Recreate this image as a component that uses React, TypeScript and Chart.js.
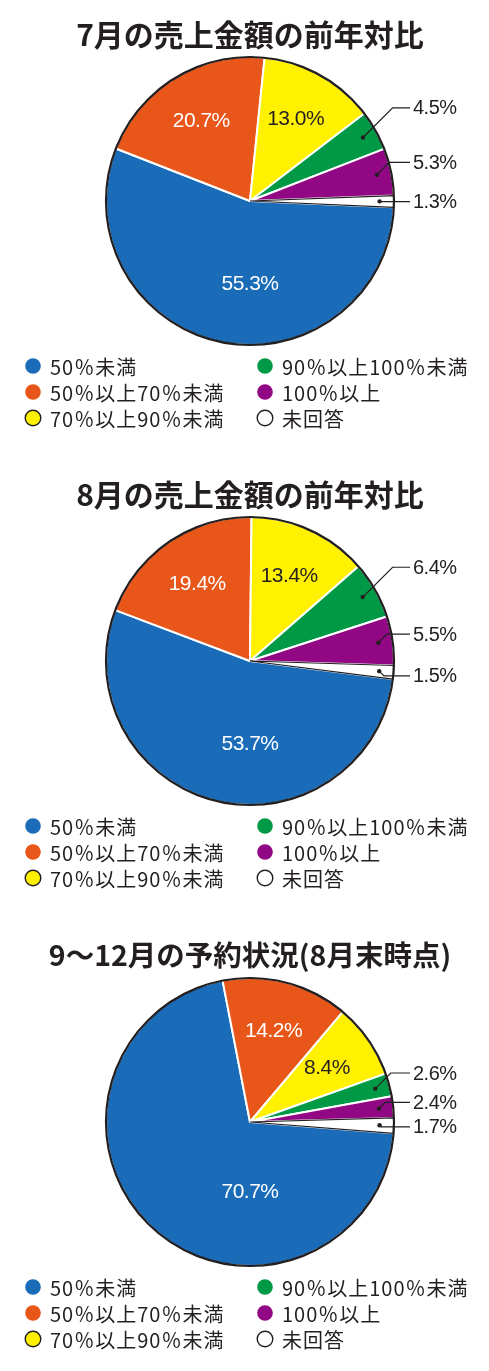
import React, { useEffect, useRef } from 'react';
import { Chart, registerables } from 'chart.js';

Chart.register(...registerables);

// ---- data ----
const categories = ['50％未満', '50％以上70％未満', '70％以上90％未満', '90％以上100％未満', '100％以上', '未回答'];
const julyValues = [55.3, 20.7, 13.0, 4.5, 5.3, 1.3];
const augustValues = [53.7, 19.4, 13.4, 6.4, 5.5, 1.5];
const bookingValues = [70.7, 14.2, 8.4, 2.6, 2.4, 1.7];
const titles = ['7月の売上金額の前年対比', '8月の売上金額の前年対比', '9〜12月の予約状況(8月末時点)'];

// ---- styles ----
const INK = '#231f20';
const sliceColors = ['#1a6cb8', '#e9561a', '#fff100', '#009a46', '#920783', '#ffffff'];
const sliceBorders = ['#ffffff', '#ffffff', '#ffffff', '#ffffff', '#ffffff', INK];
const sliceBorderWidths = [2, 2, 2, 2, 2, 1.2];
const innerTextColors = ['#ffffff', '#ffffff', INK, INK, INK, INK];
const markerOutlined = [false, false, true, false, false, true];

const panels = [
  { title: titles[0], values: julyValues, height: 460, rotation: 92.5, titleSize: 30, bigR: 0.58 },
  { title: titles[1], values: augustValues, height: 461, rotation: 97.2, titleSize: 30, bigR: 0.58 },
  { title: titles[2], values: bookingValues, height: 450, rotation: 94.5, titleSize: 28.5, bigR: 0.49 },
];

const decorPlugin = {
  id: 'pieDecor',
  afterDatasetsDraw(chart: any) {
    const ctx: CanvasRenderingContext2D = chart.ctx;
    const meta = chart.getDatasetMeta(0);
    const values: number[] = chart.data.datasets[0].data;
    const opts = chart.options.plugins.pieDecor;
    const arcs = meta.data;
    if (!arcs.length) return;
    const cx = arcs[0].x;
    const cy = arcs[0].y;
    const R = arcs[0].outerRadius;
    ctx.save();
    ctx.beginPath();
    ctx.arc(cx, cy, R, 0, Math.PI * 2);
    ctx.lineWidth = 2.2;
    ctx.strokeStyle = INK;
    ctx.stroke();

    arcs.forEach((arc: any, i: number) => {
      const v = values[i];
      const text = v.toFixed(1) + '%';
      const mid = (arc.startAngle + arc.endAngle) / 2;
      if (v >= 7) {
        let ang = mid;
        let rf = 0.65;
        if (v > 50) {
          ang = Math.PI / 2;
          rf = opts.bigR;
        }
        const x = cx + Math.cos(ang) * R * rf;
        const y = cy + Math.sin(ang) * R * rf;
        ctx.font = '21px "Liberation Sans", Arial, sans-serif';
        (ctx as any).letterSpacing = '-0.5px';
        ctx.fillStyle = innerTextColors[i];
        ctx.textAlign = 'center';
        ctx.textBaseline = 'middle';
        ctx.fillText(text, x, y);
      } else {
        const dx = cx + Math.cos(mid) * R * 0.9;
        const dy = cy + Math.sin(mid) * R * 0.9;
        const ly = cy + Math.sin(mid) * R * 1.32;
        const endX = cx + R + 16;
        const elbowX = Math.min(dx + Math.abs(ly - dy), endX - 8);
        ctx.beginPath();
        ctx.arc(dx, dy, 2.2, 0, Math.PI * 2);
        ctx.fillStyle = INK;
        ctx.fill();
        ctx.beginPath();
        ctx.moveTo(dx, dy);
        ctx.lineTo(elbowX, ly);
        ctx.lineTo(endX, ly);
        ctx.lineWidth = 1.2;
        ctx.strokeStyle = INK;
        ctx.stroke();
        ctx.font = '20px "Liberation Sans", Arial, sans-serif';
        (ctx as any).letterSpacing = '-0.5px';
        ctx.fillStyle = INK;
        ctx.textAlign = 'left';
        ctx.textBaseline = 'middle';
        ctx.fillText(text, endX + 3, ly + 1);
      }
    });
    ctx.restore();
  },
  afterDraw(chart: any) {
    const ctx: CanvasRenderingContext2D = chart.ctx;
    const labels: string[] = chart.data.labels;
    const colors: string[] = chart.data.datasets[0].backgroundColor;
    const area = chart.chartArea;
    ctx.save();
    const colX = [33, 265];
    const rowY0 = area.bottom + 21;
    const rowGap = 26;
    labels.forEach((lab, i) => {
      const col = Math.floor(i / 3);
      const row = i % 3;
      const mx = colX[col];
      const my = rowY0 + row * rowGap;
      ctx.beginPath();
      ctx.arc(mx, my, 7.8, 0, Math.PI * 2);
      ctx.fillStyle = colors[i];
      ctx.fill();
      if (markerOutlined[i]) {
        ctx.lineWidth = 1.4;
        ctx.strokeStyle = INK;
        ctx.stroke();
      }
      ctx.font = '20px "Noto Sans CJK JP", sans-serif';
      (ctx as any).letterSpacing = '1px';
      ctx.fillStyle = INK;
      ctx.textAlign = 'left';
      ctx.textBaseline = 'middle';
      ctx.fillText(lab, mx + 17, my + 1);
    });
    ctx.restore();
  },
};

function PiePanel(props: { title: string; values: number[]; height: number; rotation: number; titleSize: number; bigR: number }) {
  const ref = useRef<HTMLCanvasElement>(null);
  useEffect(() => {
    if (!ref.current) return;
    const chart = new Chart(ref.current, {
      type: 'pie',
      data: {
        labels: categories,
        datasets: [
          {
            data: props.values,
            backgroundColor: sliceColors,
            borderColor: sliceBorders,
            borderWidth: sliceBorderWidths,
            radius: 144,
          } as any,
        ],
      },
      options: {
        responsive: false,
        animation: false,
        rotation: props.rotation,
        layout: { padding: { left: 39, right: 28, top: 0, bottom: props.height - 345 } },
        plugins: {
          legend: { display: false },
          tooltip: { enabled: false },
          title: {
            display: true,
            text: props.title,
            color: INK,
            font: { family: '"Noto Sans CJK JP", sans-serif', size: props.titleSize, weight: 'bold' },
            padding: { top: 17, bottom: 57 - 17 - props.titleSize * 1.2 },
          },
          pieDecor: { bigR: props.bigR },
        } as any,
      },
      plugins: [decorPlugin],
    });
    return () => chart.destroy();
  }, []);
  return (
    <div style={{ width: 489, height: props.height }}>
      <canvas ref={ref} width={489} height={props.height} style={{ display: 'block' }} />
    </div>
  );
}

export default function App() {
  return (
    <div style={{ position: 'absolute', left: 0, top: 0, width: 489, background: '#ffffff' }}>
      {panels.map((p, i) => (
        <PiePanel key={i} {...p} />
      ))}
    </div>
  );
}
